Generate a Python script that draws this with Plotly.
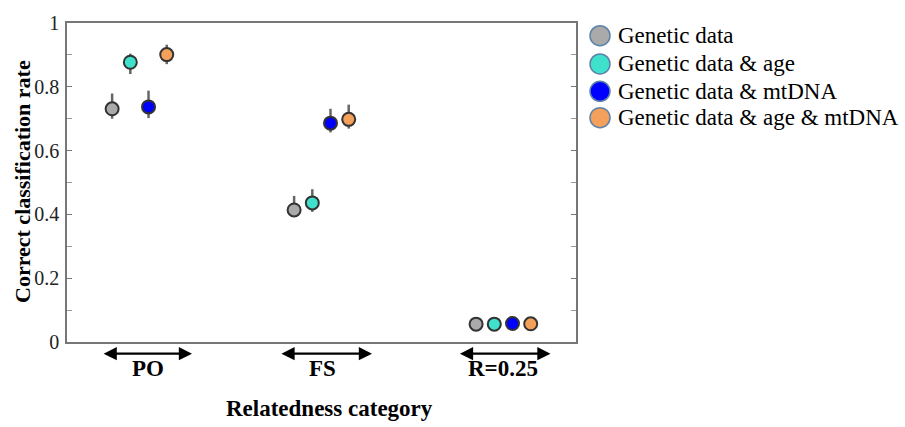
import plotly.graph_objects as go

categories = ["PO", "FS", "R=0.25"]
cat_pos = [1, 2, 3]
series_names = ["Genetic data", "Genetic data & age", "Genetic data & mtDNA", "Genetic data & age & mtDNA"]
series_colors = ["#aaaaaa", "#3fe0cc", "#0000ff", "#f5a05a"]
offsets = [-0.15, -0.05, 0.05, 0.15]

rate_genetic = [0.731, 0.414, 0.056]
rate_age = [0.877, 0.436, 0.056]
rate_mtdna = [0.737, 0.686, 0.058]
rate_age_mtdna = [0.901, 0.698, 0.057]

upper_genetic = [0.779, 0.458, 0.056]
upper_age = [0.904, 0.479, 0.056]
upper_mtdna = [0.788, 0.731, 0.058]
upper_age_mtdna = [0.932, 0.744, 0.057]

lower_genetic = [0.700, 0.395, 0.056]
lower_age = [0.840, 0.408, 0.056]
lower_mtdna = [0.702, 0.657, 0.058]
lower_age_mtdna = [0.871, 0.669, 0.057]

values = [rate_genetic, rate_age, rate_mtdna, rate_age_mtdna]
uppers = [upper_genetic, upper_age, upper_mtdna, upper_age_mtdna]
lowers = [lower_genetic, lower_age, lower_mtdna, lower_age_mtdna]

# arrow extents (category axis units) and label positions
arrow_left = [0.795, 1.772, 2.753]
arrow_right = [1.289, 2.278, 3.259]
label_x = [1.047, 2.008, 3.0]

yticks = [0, 0.2, 0.4, 0.6, 0.8, 1]
ytick_text = ["0", "0.2", "0.4", "0.6", "0.8", "1"]

SERIF = "Liberation Serif, Times New Roman, serif"

fig = go.Figure()
for name, col, off, v, up, lo in zip(series_names, series_colors, offsets, values, uppers, lowers):
    fig.add_trace(go.Scatter(
        x=[p + off for p in cat_pos], y=v, mode="markers", name=name,
        marker=dict(size=13, color=col, line=dict(color="#333333", width=2)),
        error_y=dict(type="data", symmetric=False,
                     array=[u - a for u, a in zip(up, v)],
                     arrayminus=[a - l for a, l in zip(v, lo)],
                     color="#666666", thickness=2.5, width=0),
        showlegend=False,
    ))

L, R, T, B = 67, 329, 15, 85
W, H = 905, 427
pw, ph = W - L - R, H - T - B

def px2paper_x(px):
    return (px - L) / pw

def px2paper_y(py):
    return (H - B - py) / ph

annotations = []
shapes = []

# double-headed arrows and category labels
for c, al, ar, lx in zip(categories, arrow_left, arrow_right, label_x):
    annotations.append(dict(
        x=ar, y=px2paper_y(354), xref="x", yref="paper",
        ax=al, ay=0, axref="x", ayref="pixel",
        showarrow=True, arrowhead=2, arrowside="end+start",
        arrowsize=1.2, arrowwidth=2.2, arrowcolor="#000000", text="",
    ))
    annotations.append(dict(
        x=lx, y=px2paper_y(369), xref="x", yref="paper", showarrow=False,
        text="<b>" + c + "</b>", font=dict(family=SERIF, size=23, color="#000000"),
        xanchor="center", yanchor="middle",
    ))

# custom legend
legend_y = [28, 57, 85, 112]
for name, col, ly in zip(series_names, series_colors, legend_y):
    shapes.append(dict(
        type="circle", xref="paper", yref="paper",
        xsizemode="pixel", ysizemode="pixel",
        xanchor=px2paper_x(600), yanchor=px2paper_y(ly),
        x0=-10, x1=10, y0=-10, y1=10,
        fillcolor=col, line=dict(color="#5f83a8", width=1.5),
    ))
    annotations.append(dict(
        x=px2paper_x(616), y=px2paper_y(ly), xref="paper", yref="paper",
        showarrow=False, text=name, xanchor="left", yanchor="middle",
        font=dict(family=SERIF, size=23, color="#000000"),
    ))

# axis titles
annotations.append(dict(
    x=px2paper_x(329), y=px2paper_y(410), xref="paper", yref="paper", showarrow=False,
    text="<b>Relatedness category</b>", font=dict(family=SERIF, size=23, color="#000000"),
    xanchor="center", yanchor="middle",
))
annotations.append(dict(
    x=px2paper_x(22), y=px2paper_y(178), xref="paper", yref="paper", showarrow=False,
    text="<b>Correct classification rate</b>", font=dict(family=SERIF, size=22, color="#000000"),
    xanchor="center", yanchor="middle", textangle=-90,
))

fig.update_layout(
    width=W, height=H,
    margin=dict(l=L, r=R, t=T, b=B),
    paper_bgcolor="white", plot_bgcolor="white",
    showlegend=False,
    annotations=annotations, shapes=shapes,
    xaxis=dict(range=[0.602, 3.399], showgrid=False, zeroline=False,
               showticklabels=False, ticks="", showline=True, linecolor="#777777",
               linewidth=1.5, mirror=True),
    yaxis=dict(range=[0, 1], showgrid=False, zeroline=False,
               tickvals=yticks, ticktext=ytick_text,
               ticks="inside", ticklen=5, tickcolor="#777777", tickwidth=1,
               minor=dict(dtick=0.1, ticks="inside", ticklen=5, tickcolor="#999999"),
               showline=True, linecolor="#777777", linewidth=1.5, mirror="ticks",
               tickfont=dict(family=SERIF, size=20, color="#222222"),
               ticklabelstandoff=2),
)

fig.write_html("out.html", config={"displayModeBar": False},
               post_script="document.body.style.margin='0';")
